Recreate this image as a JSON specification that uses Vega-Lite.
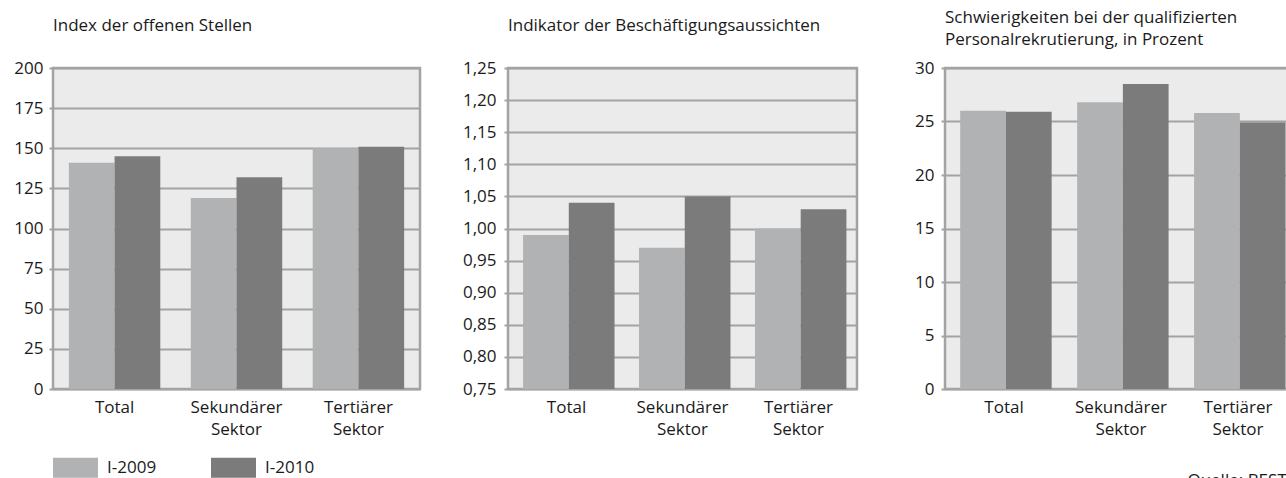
{
  "$schema": "https://vega.github.io/schema/vega-lite/v6.json",
  "background": "white",
  "padding": {"left": 12, "top": 7, "right": 0, "bottom": 0},
  "bounds": "flush",
  "spacing": 88,
  "config": {
    "font": "Open Sans",
    "view": {"fill": "#ebebeb", "stroke": "#a3a3a3", "strokeWidth": 2.5},
    "axis": {"labelFont": "Open Sans", "labelFontSize": 17, "labelColor": "#1a1a1a", "gridColor": "#a3a3a3", "gridWidth": 2, "tickColor": "#a3a3a3", "tickWidth": 2, "domain": false, "titleFont": "Open Sans", "titleFontWeight": "normal", "titleFontSize": 17, "titleColor": "#1a1a1a"},
    "title": {"font": "Open Sans", "fontSize": 17, "fontWeight": "normal", "color": "#1a1a1a", "anchor": "start", "frame": "group", "lineHeight": 22},
    "legend": {"orient": "none", "legendX": 0, "legendY": 377, "direction": "horizontal", "title": null, "symbolType": "M-1,-0.444H1V0.444H-1Z", "symbolSize": 2025, "symbolStrokeWidth": 0, "symbolOpacity": 1, "labelFont": "Open Sans", "labelFontSize": 17, "labelColor": "#1a1a1a", "labelOffset": 9, "columnPadding": 54}
  },
  "data": {"values": [
    {"panel": "A", "sektor": "Total", "jahr": "I-2009", "wert": 141},
    {"panel": "A", "sektor": "Total", "jahr": "I-2010", "wert": 145},
    {"panel": "A", "sektor": "Sekundärer Sektor", "jahr": "I-2009", "wert": 119},
    {"panel": "A", "sektor": "Sekundärer Sektor", "jahr": "I-2010", "wert": 132},
    {"panel": "A", "sektor": "Tertiärer Sektor", "jahr": "I-2009", "wert": 150},
    {"panel": "A", "sektor": "Tertiärer Sektor", "jahr": "I-2010", "wert": 151},
    {"panel": "B", "sektor": "Total", "jahr": "I-2009", "wert": 0.99},
    {"panel": "B", "sektor": "Total", "jahr": "I-2010", "wert": 1.04},
    {"panel": "B", "sektor": "Sekundärer Sektor", "jahr": "I-2009", "wert": 0.97},
    {"panel": "B", "sektor": "Sekundärer Sektor", "jahr": "I-2010", "wert": 1.05},
    {"panel": "B", "sektor": "Tertiärer Sektor", "jahr": "I-2009", "wert": 1.0},
    {"panel": "B", "sektor": "Tertiärer Sektor", "jahr": "I-2010", "wert": 1.03},
    {"panel": "C", "sektor": "Total", "jahr": "I-2009", "wert": 26.0},
    {"panel": "C", "sektor": "Total", "jahr": "I-2010", "wert": 25.9},
    {"panel": "C", "sektor": "Sekundärer Sektor", "jahr": "I-2009", "wert": 26.8},
    {"panel": "C", "sektor": "Sekundärer Sektor", "jahr": "I-2010", "wert": 28.5},
    {"panel": "C", "sektor": "Tertiärer Sektor", "jahr": "I-2009", "wert": 25.8},
    {"panel": "C", "sektor": "Tertiärer Sektor", "jahr": "I-2010", "wert": 24.9}
  ]},
  "hconcat": [
    {
      "width": 367, "height": 321,
      "title": {"text": "Index der offenen Stellen", "offset": 24},
      "transform": [{"filter": "datum.panel === 'A'"}],
      "mark": {"type": "bar", "clip": true},
      "encoding": {
        "x": {"field": "sektor", "type": "nominal", "sort": ["Total", "Sekundärer Sektor", "Tertiärer Sektor"], "scale": {"paddingInner": 0.25, "paddingOuter": 0.13}, "axis": {"title": null, "labelAngle": 0, "ticks": false, "labelPadding": 10, "labelLineHeight": 22, "labelExpr": "split(datum.label, ' ')"}},
        "xOffset": {"field": "jahr", "type": "nominal", "scale": {"paddingInner": 0, "paddingOuter": 0}},
        "y": {"field": "wert", "type": "quantitative", "scale": {"domain": [0, 200], "nice": false}, "axis": {"title": null, "values": [0, 25, 50, 75, 100, 125, 150, 175, 200], "tickSize": 4, "labelPadding": 6}},
        "color": {"field": "jahr", "type": "nominal", "scale": {"domain": ["I-2009", "I-2010"], "range": ["#b1b2b4", "#7b7b7b"]}}
      }
    },
    {
      "width": 349, "height": 321,
      "title": {"text": "Indikator der Beschäftigungsaussichten", "offset": 24},
      "transform": [{"filter": "datum.panel === 'B'"}],
      "mark": {"type": "bar", "clip": true},
      "encoding": {
        "x": {"field": "sektor", "type": "nominal", "sort": ["Total", "Sekundärer Sektor", "Tertiärer Sektor"], "scale": {"paddingInner": 0.25, "paddingOuter": 0.13}, "axis": {"title": null, "labelAngle": 0, "ticks": false, "labelPadding": 10, "labelLineHeight": 22, "labelExpr": "split(datum.label, ' ')"}},
        "xOffset": {"field": "jahr", "type": "nominal", "scale": {"paddingInner": 0, "paddingOuter": 0}},
        "y": {"field": "wert", "type": "quantitative", "scale": {"domain": [0.75, 1.25], "zero": false, "nice": false}, "axis": {"title": null, "values": [0.75, 0.8, 0.85, 0.9, 0.95, 1.0, 1.05, 1.1, 1.15, 1.2, 1.25], "tickSize": 4, "labelPadding": 8, "labelExpr": "replace(format(datum.value, '.2f'), '.', ',')"}},
        "color": {"field": "jahr", "type": "nominal", "scale": {"domain": ["I-2009", "I-2010"], "range": ["#b1b2b4", "#7b7b7b"]}}
      }
    },
    {
      "width": 352, "height": 321,
      "title": {"text": ["Schwierigkeiten bei der qualifizierten", "Personalrekrutierung, in Prozent"], "offset": 10},
      "transform": [{"filter": "datum.panel === 'C'"}],
      "mark": {"type": "bar", "clip": true},
      "encoding": {
        "x": {"field": "sektor", "type": "nominal", "sort": ["Total", "Sekundärer Sektor", "Tertiärer Sektor"], "scale": {"paddingInner": 0.25, "paddingOuter": 0.13}, "axis": {"title": "Quelle: BESTA", "titleAnchor": "end", "titlePadding": 35, "labelAngle": 0, "ticks": false, "labelPadding": 10, "labelLineHeight": 22, "labelExpr": "split(datum.label, ' ')"}},
        "xOffset": {"field": "jahr", "type": "nominal", "scale": {"paddingInner": 0, "paddingOuter": 0}},
        "y": {"field": "wert", "type": "quantitative", "scale": {"domain": [0, 30], "nice": false}, "axis": {"title": null, "values": [0, 5, 10, 15, 20, 25, 30], "tickSize": 4, "labelPadding": 7}},
        "color": {"field": "jahr", "type": "nominal", "scale": {"domain": ["I-2009", "I-2010"], "range": ["#b1b2b4", "#7b7b7b"]}}
      }
    }
  ]
}
